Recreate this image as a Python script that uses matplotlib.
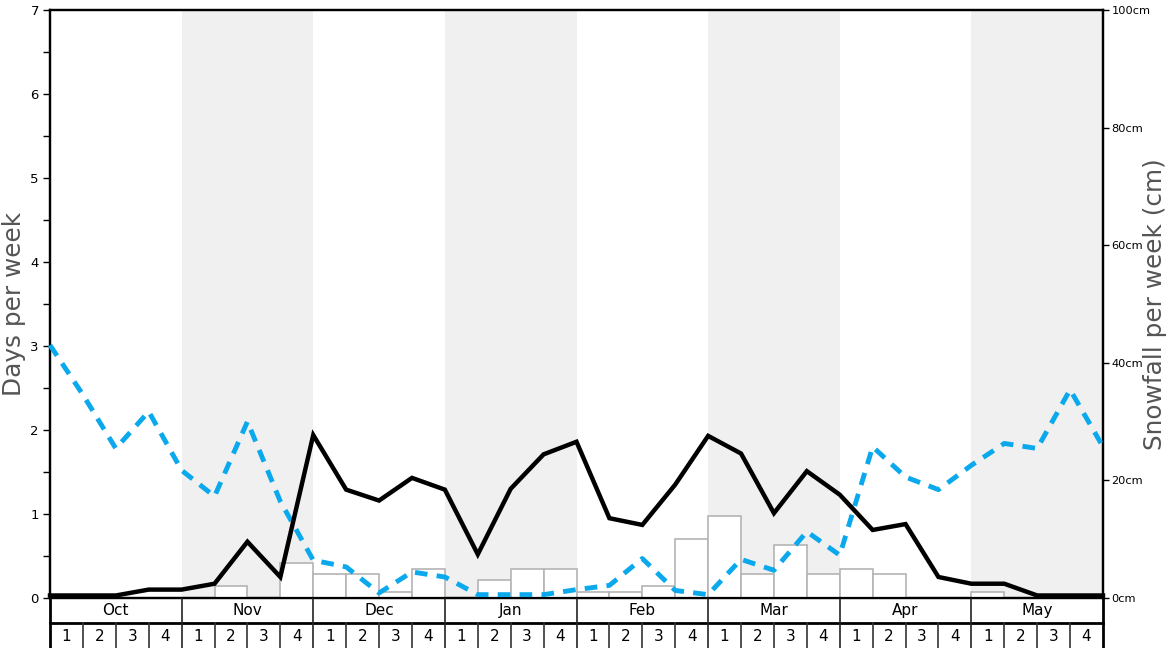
import numpy as np
import matplotlib
matplotlib.use("Agg")
import matplotlib.pyplot as plt
from matplotlib.ticker import MultipleLocator

months = ["Oct", "Nov", "Dec", "Jan", "Feb", "Mar", "Apr", "May"]
weeks = ["1", "2", "3", "4"]

# days per week lines (values at week boundaries)
days_black = [0.03, 0.03, 0.03, 0.10, 0.10, 0.17, 0.67, 0.25, 1.94, 1.29, 1.16,
              1.43, 1.29, 0.52, 1.30, 1.71, 1.86, 0.95, 0.87, 1.35, 1.93, 1.72,
              1.01, 1.51, 1.23, 0.81, 0.88, 0.25, 0.17, 0.17, 0.03, 0.03, 0.03]
days_blue = [3.01, 2.42, 1.78, 2.22, 1.52, 1.21, 2.10, 1.15, 0.45, 0.37, 0.06,
             0.31, 0.25, 0.04, 0.04, 0.04, 0.10, 0.15, 0.47, 0.09, 0.04, 0.46,
             0.33, 0.79, 0.51, 1.80, 1.44, 1.29, 1.58, 1.84, 1.78, 2.48, 1.80]
# snowfall per week (cm)
snowfall = [0, 0, 0, 0,
            0, 2, 0, 6,
            4, 4, 1, 5,
            0, 3, 5, 5,
            1, 1, 2, 10,
            14, 4, 9, 4,
            5, 4, 0, 0,
            1, 0, 0, 0]

W, H = 1168, 648
fig = plt.figure(figsize=(W / 100, H / 100), dpi=100)
L, R, T, B = 50, 1103, 10, 598
ax = fig.add_axes([L / W, (H - B) / H, (R - L) / W, (B - T) / H])
ax2 = ax.twinx()

nweeks = len(months) * len(weeks)
ax.set_xlim(0, nweeks)
ax.set_ylim(0, 7)
ax2.set_ylim(0, 100)

# month shading
for i in range(len(months)):
    if i % 2 == 1:
        ax.axvspan(i * 4, i * 4 + 4, color="#f0f0f0", lw=0, zorder=0)

# bars on snowfall axis
ax2.bar(np.arange(nweeks) + 0.5, snowfall, width=1.0, color="white",
        edgecolor="#b4b4b4", linewidth=1.2, zorder=1)

# lines on days axis (drawn on ax2 for z-order, converted to its scale)
scale = 100 / 7
xs = np.arange(len(days_black))
ax2.plot(xs, np.array(days_blue) * scale, color="#0aa8ec", lw=3.5,
         linestyle=(0, (2.6, 1.9)), dash_capstyle="butt", zorder=3, clip_on=False)
ax2.plot(xs, np.array(days_black) * scale, color="black", lw=3.2,
         solid_joinstyle="miter", zorder=4, clip_on=False)

ax.set_xticks([])
ax.yaxis.set_major_locator(MultipleLocator(1))
ax.yaxis.set_minor_locator(MultipleLocator(0.5))
ax.tick_params(axis="y", which="both", length=5, width=1, labelsize=9.5, pad=3)
ax2.set_yticks(np.arange(0, 101, 20))
ax2.set_yticklabels([f"{v}cm" for v in range(0, 101, 20)])
ax2.tick_params(axis="y", length=4, width=1, labelsize=8.2, pad=2)
for a in (ax, ax2):
    for s in a.spines.values():
        s.set_linewidth(1.6)
        s.set_color("black")
ax2.set_xticks([])

ax.set_ylabel("Days per week", fontsize=17.8, color="#555555")
ax2.set_ylabel("Snowfall per week (cm)", fontsize=17.8, color="#555555")
ax.yaxis.set_label_coords(-23.5 / (R - L), 0.5)
ax2.yaxis.set_label_coords(1.0 + 40 / (R - L), 0.5)

# bottom table
axb = fig.add_axes([L / W, 0, (R - L) / W, (H - B) / H])
axb.set_xlim(0, nweeks)
axb.set_ylim(0, 50)
axb.axis("off")
row_split = 50 - 25
axb.plot([0, nweeks], [row_split, row_split], color="black", lw=2, clip_on=False)
axb.plot([0, 0], [0, 50], color="black", lw=2, clip_on=False)
axb.plot([nweeks, nweeks], [0, 50], color="black", lw=2, clip_on=False)
for i, m in enumerate(months):
    if i > 0:
        axb.plot([i * 4, i * 4], [0, 50], color="#222222", lw=1.2)
    axb.text(i * 4 + 2, (50 + row_split) / 2, m, ha="center", va="center", fontsize=11)
    for j, wk in enumerate(weeks):
        k = i * 4 + j
        if j > 0:
            axb.plot([k, k], [0, row_split], color="#333333", lw=1.2)
        axb.text(k + 0.5, row_split / 2 - 1, wk, ha="center", va="center", fontsize=11)

fig.savefig("out.png", dpi=100)
